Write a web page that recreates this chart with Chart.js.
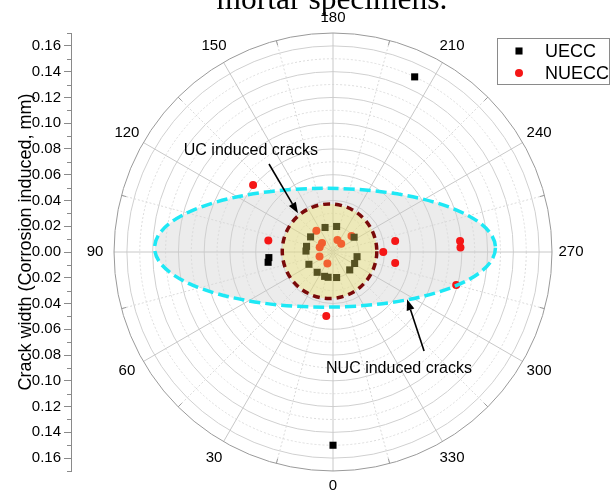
<!DOCTYPE html>
<html>
<head>
<meta charset="utf-8">
<script src="https://cdn.jsdelivr.net/npm/chart.js@4.4.1/dist/chart.umd.min.js"></script>
<style>
  html, body { margin: 0; padding: 0; background: #fff; }
  #wrap { position: relative; width: 611px; height: 496px; }
  canvas { display: block; }
</style>
</head>
<body>
<div id="wrap"><canvas id="c" width="611" height="496"></canvas></div>
<script>
// Crack orientation (degrees, 0 at bottom, clockwise) and crack width (mm)
const ueccAngle = [205, 0, 85, 81, 162, 188, 124, 102, 92, 63, 38, 19, 11, 352, 317, 298, 281, 235];
const ueccWidth = [0.150, 0.150, 0.050, 0.051, 0.020, 0.020, 0.021, 0.021, 0.021, 0.021, 0.020, 0.020, 0.020, 0.020, 0.019, 0.019, 0.019, 0.020];

const nueccAngle = [130, 6, 285, 100, 270, 260, 280, 265, 268, 142, 129, 110, 200, 225, 72, 26, 229];
const nueccWidth = [0.081, 0.050, 0.099, 0.051, 0.039, 0.049, 0.049, 0.099, 0.099, 0.021, 0.011, 0.011, 0.010, 0.009, 0.011, 0.010, 0.019];

const seriesNames = ['UECC', 'NUECC'];
const angleTicks = [0, 30, 60, 90, 120, 150, 180, 210, 240, 270, 300, 330];
const widthMax = 0.17;
const widthStep = 0.01;

// Highlighted crack zones, in crack-width units around the pole
const nucZone = { x: -0.0062, y: 0.0033, rx: 0.1323, ry: 0.0461 };
const ucZone = { x: -0.0027, y: 0.0006, r: 0.0367 };
const notes = [
  { text: 'UC induced cracks', x: -0.0637, y: 0.0785, from: [-0.0497, 0.0683], to: [-0.0272, 0.0300] },
  { text: 'NUC induced cracks', x: 0.0512, y: -0.0906, from: [0.0707, -0.0769], to: [0.0575, -0.0367] }
];

const FONT = '"Liberation Sans", Arial, sans-serif';
Chart.defaults.font.family = FONT;
Chart.defaults.color = '#000';

function toXY(angles, widths) {
  return angles.map((a, i) => {
    const t = a * Math.PI / 180;
    return { x: -widths[i] * Math.sin(t), y: -widths[i] * Math.cos(t) };
  });
}

function frame(chart) {
  const xs = chart.scales.x, ys = chart.scales.y;
  const cx = xs.getPixelForValue(0), cy = ys.getPixelForValue(0);
  const k = xs.getPixelForValue(1) - cx;
  return { cx, cy, k, px: v => cx + v * k, py: v => cy - v * k };
}

function isOdd(v) { return Math.round(Math.abs(v) / widthStep) % 2 === 1; }

const polarGrid = {
  id: 'polarGrid',
  beforeDatasetsDraw(chart) {
    const ctx = chart.ctx;
    const f = frame(chart);
    const R = widthMax * f.k;
    ctx.save();
    // grey zone of non-uniform corrosion cracks
    ctx.beginPath();
    ctx.ellipse(f.px(nucZone.x), f.py(nucZone.y), nucZone.rx * f.k, nucZone.ry * f.k, 0, 0, Math.PI * 2);
    ctx.fillStyle = '#ececec';
    ctx.fill();

    // rings
    const n = Math.round(widthMax / widthStep);
    for (let i = 1; i < n; i++) {
      const r = i * widthStep * f.k;
      ctx.beginPath();
      ctx.arc(f.cx, f.cy, r, 0, Math.PI * 2);
      if (i % 2 === 0) { ctx.setLineDash([]); ctx.strokeStyle = '#d0d0d0'; }
      else { ctx.setLineDash([2, 2]); ctx.strokeStyle = '#dcdcdc'; }
      ctx.lineWidth = 1;
      ctx.stroke();
    }
    // spokes
    for (let a = 0; a < 360; a += 15) {
      const t = a * Math.PI / 180;
      ctx.beginPath();
      ctx.moveTo(f.cx, f.cy);
      ctx.lineTo(f.cx - R * Math.sin(t), f.cy + R * Math.cos(t));
      if (a % 30 === 0) { ctx.setLineDash([]); ctx.strokeStyle = '#c8c8c8'; }
      else { ctx.setLineDash([2, 2]); ctx.strokeStyle = '#dadada'; }
      ctx.stroke();
    }
    ctx.setLineDash([]);
    // outer ring and its minor ticks
    ctx.beginPath();
    ctx.arc(f.cx, f.cy, R, 0, Math.PI * 2);
    ctx.strokeStyle = '#9a9a9a';
    ctx.stroke();
    for (let a = 15; a < 360; a += 30) {
      const t = a * Math.PI / 180;
      ctx.beginPath();
      ctx.moveTo(f.cx - R * Math.sin(t), f.cy + R * Math.cos(t));
      ctx.lineTo(f.cx - (R - 5) * Math.sin(t), f.cy + (R - 5) * Math.cos(t));
      ctx.stroke();
    }
    // angle labels
    ctx.fillStyle = '#000';
    ctx.font = '15px ' + FONT;
    ctx.textAlign = 'center';
    ctx.textBaseline = 'middle';
    angleTicks.forEach(a => {
      const t = a * Math.PI / 180;
      const L = R + (a % 180 === 0 ? 15 : 19);
      ctx.fillText(String(a), f.cx - L * Math.sin(t), f.cy + L * Math.cos(t));
    });
    ctx.restore();
  },
  afterDatasetsDraw(chart) {
    const ctx = chart.ctx;
    const f = frame(chart);
    ctx.save();
    // uniform corrosion zone
    ctx.beginPath();
    ctx.arc(f.px(ucZone.x), f.py(ucZone.y), ucZone.r * f.k, 0, Math.PI * 2);
    ctx.fillStyle = 'rgba(238,226,95,0.36)';
    ctx.fill();
    ctx.setLineDash([7, 5]);
    ctx.lineWidth = 3.5;
    ctx.strokeStyle = '#7a0a0a';
    ctx.stroke();
    // non-uniform zone outline
    ctx.beginPath();
    ctx.ellipse(f.px(nucZone.x), f.py(nucZone.y), nucZone.rx * f.k, nucZone.ry * f.k, 0, 0, Math.PI * 2);
    ctx.setLineDash([11, 5]);
    ctx.strokeStyle = '#1ee8f5';
    ctx.stroke();
    ctx.setLineDash([]);

    // notes with arrows
    ctx.font = '16px ' + FONT;
    ctx.textAlign = 'center';
    ctx.textBaseline = 'middle';
    notes.forEach(nt => {
      ctx.fillStyle = '#000';
      ctx.fillText(nt.text, f.px(nt.x), f.py(nt.y));
      const x0 = f.px(nt.from[0]), y0 = f.py(nt.from[1]);
      const x1 = f.px(nt.to[0]), y1 = f.py(nt.to[1]);
      const ang = Math.atan2(y1 - y0, x1 - x0);
      const hl = 11, hw = 4;
      ctx.beginPath();
      ctx.moveTo(x0, y0);
      ctx.lineTo(x1 - hl * Math.cos(ang), y1 - hl * Math.sin(ang));
      ctx.lineWidth = 1.6;
      ctx.strokeStyle = '#000';
      ctx.stroke();
      ctx.beginPath();
      ctx.moveTo(x1, y1);
      ctx.lineTo(x1 - hl * Math.cos(ang) + hw * Math.sin(ang), y1 - hl * Math.sin(ang) - hw * Math.cos(ang));
      ctx.lineTo(x1 - hl * Math.cos(ang) - hw * Math.sin(ang), y1 - hl * Math.sin(ang) + hw * Math.cos(ang));
      ctx.closePath();
      ctx.fill();
    });

    // minor ticks on the width axis
    const ys = chart.scales.y;
    const left = chart.chartArea.left;
    ctx.strokeStyle = '#8a8a8a';
    ctx.lineWidth = 1;
    ys.ticks.forEach(t => {
      if (isOdd(t.value)) {
        const y = Math.round(ys.getPixelForValue(t.value)) + 0.5;
        ctx.beginPath();
        ctx.moveTo(left - 4, y);
        ctx.lineTo(left, y);
        ctx.stroke();
      }
    });

    // axis title
    ctx.save();
    ctx.translate(26, 242);
    ctx.rotate(-Math.PI / 2);
    ctx.font = '18px ' + FONT;
    ctx.fillStyle = '#000';
    ctx.fillText('Crack width (Corrosion induced, mm)', 0, 0);
    ctx.restore();

    // caption line above the plot
    ctx.font = '31.5px "Liberation Serif", "Times New Roman", serif';
    ctx.textAlign = 'center';
    ctx.textBaseline = 'alphabetic';
    ctx.fillStyle = '#000';
    ctx.fillText('mortar specimens.', 332, 9);

    // legend
    const lx = 497.5, ly = 38.5, lw = 112, lh = 46;
    ctx.fillStyle = '#fff';
    ctx.fillRect(lx, ly, lw, lh);
    ctx.strokeStyle = '#8a8a8a';
    ctx.lineWidth = 1;
    ctx.strokeRect(lx, ly, lw, lh);
    chart.data.datasets.forEach((ds, i) => {
      const yy = ly + 12.5 + i * 22;
      ctx.fillStyle = ds.backgroundColor;
      ctx.beginPath();
      if (ds.pointStyle === 'rect') {
        const s = ds.pointRadius * Math.SQRT1_2;
        ctx.rect(lx + 21.5 - s, yy - s, 2 * s, 2 * s);
      } else {
        ctx.arc(lx + 21.5, yy, ds.pointRadius, 0, Math.PI * 2);
      }
      ctx.fill();
      ctx.fillStyle = '#000';
      ctx.font = '18px ' + FONT;
      ctx.textAlign = 'left';
      ctx.textBaseline = 'middle';
      ctx.fillText(ds.label, lx + 47.5, yy + 1);
    });
    ctx.restore();
  }
};

new Chart(document.getElementById('c'), {
  type: 'scatter',
  data: {
    datasets: [
      {
        label: seriesNames[0],
        data: toXY(ueccAngle, ueccWidth),
        pointStyle: 'rect',
        pointRadius: 5,
        backgroundColor: '#000000',
        borderWidth: 0
      },
      {
        label: seriesNames[1],
        data: toXY(nueccAngle, nueccWidth),
        pointStyle: 'circle',
        pointRadius: 4,
        backgroundColor: '#f51616',
        borderWidth: 0
      }
    ]
  },
  options: {
    responsive: false,
    animation: false,
    events: [],
    devicePixelRatio: 1,
    layout: { padding: { left: 0, top: 33, right: 59, bottom: 25 } },
    plugins: { legend: { display: false }, tooltip: { enabled: false }, title: { display: false } },
    scales: {
      x: { type: 'linear', display: false, min: -0.2034, max: widthMax },
      y: {
        type: 'linear',
        position: 'left',
        min: -widthMax,
        max: widthMax,
        afterFit(scale) { scale.width = 71; },
        border: { display: true, color: '#8a8a8a' },
        grid: {
          drawOnChartArea: false,
          drawTicks: true,
          tickLength: 7,
          tickColor: c => (c.tick && isOdd(c.tick.value)) ? 'rgba(0,0,0,0)' : '#8a8a8a'
        },
        ticks: {
          stepSize: widthStep,
          autoSkip: false,
          padding: 3,
          color: '#000',
          font: { size: 15 },
          callback: v => isOdd(v) ? '' : Math.abs(v).toFixed(2)
        }
      }
    }
  },
  plugins: [polarGrid]
});
</script>
</body>
</html>
